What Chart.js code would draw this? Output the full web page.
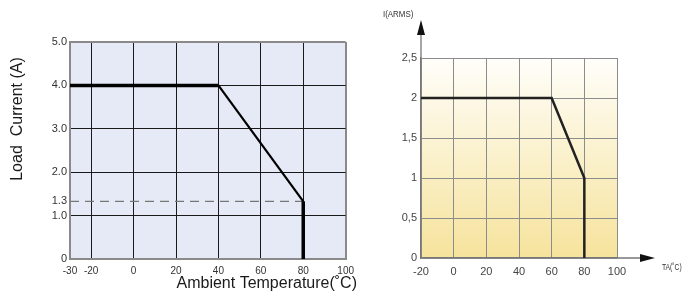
<!DOCTYPE html>
<html>
<head>
<meta charset="utf-8">
<script src="https://cdn.jsdelivr.net/npm/chart.js@4"></script>
<style>
  body { margin: 0; background: #fff; width: 683px; height: 296px; overflow: hidden; }
  canvas { position: absolute; top: 0; }
  #leftChart { left: 0; }
  #rightChart { left: 360px; }
</style>
</head>
<body>
<canvas id="leftChart" width="360" height="296"></canvas>
<canvas id="rightChart" width="323" height="296"></canvas>
<script>
// Left chart: load current against ambient temperature
const leftTemps = [-30, 40, 80, 80];
const leftCurrent = [4.0, 4.0, 1.33, 0];
const leftLimitTemps = [-30, 80];
const leftLimitCurrent = [1.33, 1.33];
const leftXTicks = [-30, -20, 0, 20, 40, 60, 80, 100];
const leftYTicks = [0, 1.0, 1.33, 2.0, 3.0, 4.0, 5.0];
const leftYLabels = ['0', '1.0', '1.3', '2.0', '3.0', '4.0', '5.0'];

// Right chart: I(ARMS) against TA
const rightTemps = [-20, 60, 80, 80];
const rightCurrent = [2, 2, 1, 0];
const rightXTicks = [-20, 0, 20, 40, 60, 80, 100];
const rightYTicks = [0, 0.5, 1, 1.5, 2, 2.5];
const rightYLabels = ['0', '0,5', '1', '1,5', '2', '2,5'];

const toPoints = (xs, ys) => xs.map((x, i) => ({ x: x, y: ys[i] }));

document.addEventListener('DOMContentLoaded', function() {

    const leftTitles = {
        id: 'leftTitles',
        beforeDraw(chart) {
            const a = chart.chartArea;
            const ctx = chart.ctx;
            ctx.save();
            ctx.fillStyle = '#e5eaf6';
            ctx.fillRect(a.left, a.top, a.right - a.left, a.bottom - a.top);
            ctx.restore();
        },
        afterDraw(chart) {
            const ctx = chart.ctx;
            ctx.save();
            ctx.fillStyle = '#1a1a1a';
            ctx.font = '16px "Liberation Sans", Arial, sans-serif';
            ctx.textBaseline = 'middle';
            ctx.textAlign = 'right';
            ctx.fillText('Ambient Temperature(˚C)', 357, 284);
            ctx.translate(18, 119);
            ctx.rotate(-Math.PI / 2);
            ctx.textAlign = 'center';
            ctx.fillText('Load  Current (A)', 0, 0);
            ctx.restore();
        }
    };

    new Chart(document.getElementById('leftChart').getContext('2d'), {
        type: 'line',
        data: {
            datasets: [{
                data: toPoints(leftTemps, leftCurrent),
                borderColor: '#000',
                borderWidth: 3.5,
                segment: {
                    borderWidth: ctx => ctx.p0DataIndex === 1 ? 2.2 : 3.5
                },
                pointRadius: 0,
                fill: false,
                clip: false
            }, {
                data: toPoints(leftLimitTemps, leftLimitCurrent),
                borderColor: '#777',
                borderWidth: 1.3,
                borderDash: [9, 6],
                pointRadius: 0,
                fill: false
            }]
        },
        options: {
            responsive: false,
            animation: false,
            layout: { padding: { left: 0, top: 42, right: 9, bottom: 0 } },
            plugins: { legend: { display: false }, tooltip: { enabled: false } },
            scales: {
                x: {
                    type: 'linear',
                    min: -30,
                    max: 100,
                    afterBuildTicks: s => { s.ticks = leftXTicks.map(v => ({ value: v })); },
                    afterFit: s => { s.height = 37; },
                    grid: {
                        drawTicks: false,
                        tickLength: 0,
                        color: c => (c.tick && (c.tick.value === 100 || c.tick.value === -30)) ? '#8a8a8a' : '#1a1a1a',
                        lineWidth: c => (c.tick && (c.tick.value === 100 || c.tick.value === -30)) ? 2 : 1
                    },
                    border: { color: '#8a8a8a', width: 2 },
                    ticks: {
                        padding: 6,
                        maxRotation: 0,
                        color: '#333',
                        font: { family: '"Liberation Sans", Arial, sans-serif', size: 10 }
                    }
                },
                y: {
                    type: 'linear',
                    min: 0,
                    max: 5,
                    afterBuildTicks: s => { s.ticks = leftYTicks.map(v => ({ value: v })); },
                    afterFit: s => { s.width = 70; },
                    grid: {
                        drawTicks: false,
                        tickLength: 0,
                        color: c => {
                            if (!c.tick) return '#1a1a1a';
                            if (c.tick.value === 1.33) return 'rgba(0,0,0,0)';
                            if (c.tick.value === 5 || c.tick.value === 0) return '#8a8a8a';
                            return '#1a1a1a';
                        },
                        lineWidth: c => (c.tick && (c.tick.value === 5 || c.tick.value === 0)) ? 2 : 1
                    },
                    border: { color: '#8a8a8a', width: 2 },
                    ticks: {
                        padding: 3,
                        color: '#333',
                        font: { family: '"Liberation Sans", Arial, sans-serif', size: 11 },
                        callback: (v, i) => leftYLabels[i]
                    }
                }
            }
        },
        plugins: [leftTitles]
    });

    const rightDecor = {
        id: 'rightDecor',
        beforeDraw(chart) {
            const a = chart.chartArea;
            const ctx = chart.ctx;
            const g = ctx.createLinearGradient(0, a.top, 0, a.bottom);
            g.addColorStop(0, '#fffefa');
            g.addColorStop(1, '#f6e39c');
            ctx.save();
            ctx.fillStyle = g;
            ctx.fillRect(a.left, a.top, a.right - a.left, a.bottom - a.top);
            ctx.restore();
        },
        afterDraw(chart) {
            const a = chart.chartArea;
            const ctx = chart.ctx;
            ctx.save();
            ctx.strokeStyle = '#777';
            ctx.lineWidth = 1.3;
            ctx.beginPath();
            ctx.moveTo(a.left, a.top);
            ctx.lineTo(a.left, 34);
            ctx.moveTo(a.right, a.bottom);
            ctx.lineTo(281, a.bottom);
            ctx.stroke();
            ctx.fillStyle = '#111';
            ctx.beginPath();
            ctx.moveTo(a.left, 20);
            ctx.lineTo(a.left - 4, 35);
            ctx.lineTo(a.left + 4, 35);
            ctx.closePath();
            ctx.fill();
            ctx.beginPath();
            ctx.moveTo(295, a.bottom);
            ctx.lineTo(280, a.bottom - 4);
            ctx.lineTo(280, a.bottom + 4);
            ctx.closePath();
            ctx.fill();
            // small narrow axis names
            ctx.fillStyle = '#333';
            ctx.font = '9px "Liberation Sans", Arial, sans-serif';
            ctx.textBaseline = 'middle';
            ctx.textAlign = 'left';
            ctx.save();
            ctx.translate(23, 15);
            ctx.scale(0.88, 1);
            ctx.fillText('I(ARMS)', 0, 0);
            ctx.restore();
            ctx.save();
            ctx.translate(302, 268);
            ctx.scale(0.75, 1);
            ctx.fillText('TA(˚C)', 0, 0);
            ctx.restore();
            ctx.restore();
        }
    };

    new Chart(document.getElementById('rightChart').getContext('2d'), {
        type: 'line',
        data: {
            datasets: [{
                data: toPoints(rightTemps, rightCurrent),
                borderColor: '#222',
                borderWidth: 2.5,
                pointRadius: 0,
                fill: false,
                clip: false
            }]
        },
        options: {
            responsive: false,
            animation: false,
            layout: { padding: { left: 0, top: 58, right: 66, bottom: 0 } },
            plugins: { legend: { display: false }, tooltip: { enabled: false } },
            scales: {
                x: {
                    type: 'linear',
                    min: -20,
                    max: 100,
                    afterBuildTicks: s => { s.ticks = rightXTicks.map(v => ({ value: v })); },
                    afterFit: s => { s.height = 38; },
                    grid: { drawTicks: false, tickLength: 0, color: '#8c8c8c', lineWidth: 1 },
                    border: { color: '#777', width: 1.3 },
                    ticks: {
                        padding: 7,
                        maxRotation: 0,
                        color: '#444',
                        font: { family: '"Liberation Sans", Arial, sans-serif', size: 11 }
                    }
                },
                y: {
                    type: 'linear',
                    min: 0,
                    max: 2.5,
                    afterBuildTicks: s => { s.ticks = rightYTicks.map(v => ({ value: v })); },
                    afterFit: s => { s.width = 61; },
                    grid: { drawTicks: false, tickLength: 0, color: '#8c8c8c', lineWidth: 1 },
                    border: { color: '#777', width: 1.3 },
                    ticks: {
                        padding: 4,
                        color: '#444',
                        font: { family: '"Liberation Sans", Arial, sans-serif', size: 11 },
                        callback: (v, i) => rightYLabels[i]
                    }
                }
            }
        },
        plugins: [rightDecor]
    });
});
</script>
</body>
</html>
